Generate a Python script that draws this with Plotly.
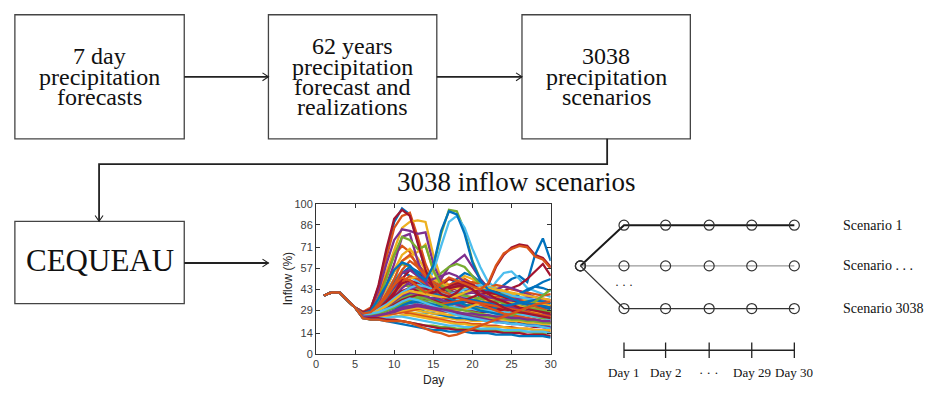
import plotly.graph_objects as go

# ---------------- data ----------------
days = list(range(1, 31))
common_start = [39, 41, 41, 36, 31]  # days 1-5, shared by every scenario

# inflow (%) for days 6..30, one list per plotted scenario
scenario_tails = [
    [28, 30, 45, 68, 88, 97, 93, 75, 55, 42, 38, 36, 40, 45, 42, 38, 35, 33, 30, 28, 27, 26, 25, 24, 23],
    [28, 31, 44, 65, 84, 92, 94, 78, 60, 48, 44, 42, 46, 50, 47, 42, 38, 36, 34, 32, 30, 29, 28, 27, 26],
    [28, 30, 40, 55, 70, 84, 88, 89, 88, 66, 50, 46, 48, 52, 50, 46, 42, 40, 38, 36, 34, 33, 32, 31, 30],
    [27, 30, 42, 60, 76, 83, 82, 80, 81, 60, 48, 44, 45, 48, 46, 44, 42, 40, 38, 37, 36, 35, 34, 33, 32],
    [27, 29, 36, 45, 55, 60, 58, 52, 48, 58, 80, 96, 95, 82, 62, 50, 44, 42, 40, 38, 36, 35, 34, 33, 32],
    [27, 29, 35, 42, 50, 55, 52, 48, 45, 55, 72, 88, 92, 84, 70, 58, 48, 44, 42, 40, 38, 37, 36, 35, 34],
    [27, 28, 32, 38, 45, 50, 48, 44, 40, 42, 46, 50, 48, 46, 44, 42, 46, 58, 66, 71, 73, 72, 66, 64, 58],
    [27, 29, 33, 40, 48, 55, 52, 50, 46, 44, 42, 45, 50, 54, 52, 48, 44, 42, 46, 50, 52, 48, 66, 77, 62],
    [27, 29, 38, 52, 66, 72, 68, 58, 50, 44, 40, 38, 37, 38, 36, 34, 32, 30, 29, 28, 27, 26, 25, 24, 23],
    [26, 28, 34, 44, 55, 62, 65, 68, 73, 55, 45, 40, 42, 44, 42, 40, 38, 36, 35, 34, 33, 32, 31, 30, 29],
    [26, 28, 32, 38, 44, 48, 46, 44, 42, 44, 50, 58, 62, 66, 58, 50, 44, 40, 38, 36, 35, 34, 33, 32, 31],
    [26, 28, 31, 36, 42, 46, 45, 43, 42, 46, 54, 58, 60, 58, 52, 46, 42, 38, 36, 34, 32, 31, 30, 29, 28],
    [26, 27, 30, 34, 38, 42, 40, 38, 36, 38, 40, 42, 44, 46, 44, 42, 40, 48, 54, 55, 50, 44, 42, 40, 38],
    [26, 27, 30, 33, 37, 40, 39, 37, 36, 37, 39, 42, 44, 46, 45, 43, 42, 41, 42, 44, 46, 50, 55, 60, 52],
    [25, 26, 28, 30, 33, 35, 34, 33, 32, 31, 30, 30, 31, 32, 33, 34, 35, 36, 37, 38, 40, 42, 45, 48, 50],
    [26, 27, 31, 36, 42, 48, 52, 50, 47, 45, 44, 46, 48, 47, 45, 43, 44, 46, 45, 43, 42, 41, 40, 39, 40],
    [26, 27, 30, 35, 40, 46, 50, 52, 50, 46, 42, 40, 39, 40, 42, 44, 45, 44, 42, 40, 38, 36, 35, 34, 33],
    [25, 26, 29, 33, 38, 44, 48, 46, 43, 40, 38, 37, 38, 40, 41, 40, 38, 36, 34, 33, 32, 31, 30, 29, 28],
    [25, 26, 28, 31, 35, 40, 42, 40, 38, 36, 35, 34, 33, 32, 34, 38, 40, 38, 35, 33, 31, 30, 29, 28, 27],
    [25, 25, 26, 28, 30, 33, 34, 33, 32, 31, 30, 29, 28, 27, 26, 25, 24, 24, 23, 22, 22, 21, 20, 20, 19],
    [26, 27, 30, 34, 40, 50, 56, 54, 50, 45, 40, 38, 36, 35, 34, 33, 32, 31, 30, 29, 28, 27, 26, 25, 24],
    [26, 27, 31, 37, 45, 54, 58, 55, 52, 48, 44, 42, 40, 41, 43, 44, 42, 40, 38, 36, 34, 33, 32, 31, 30],
    [26, 28, 33, 40, 50, 62, 66, 60, 54, 48, 45, 43, 44, 46, 48, 46, 43, 40, 38, 37, 36, 35, 34, 33, 32],
    [27, 29, 34, 44, 56, 66, 70, 64, 56, 50, 47, 45, 44, 43, 42, 41, 40, 39, 38, 37, 36, 35, 34, 33, 32],
    [27, 28, 32, 38, 46, 54, 56, 52, 48, 50, 52, 54, 52, 48, 44, 42, 41, 43, 45, 44, 42, 40, 38, 36, 34],
    [25, 25, 27, 29, 31, 33, 32, 31, 30, 29, 30, 32, 34, 36, 38, 37, 35, 33, 31, 30, 29, 28, 27, 26, 25],
    [25, 25, 26, 27, 28, 29, 28, 27, 27, 28, 30, 33, 36, 38, 36, 33, 30, 28, 26, 25, 24, 23, 22, 21, 20],
    [26, 27, 30, 34, 38, 42, 41, 40, 39, 40, 42, 44, 45, 46, 44, 40, 36, 32, 28, 24, 21, 19, 18, 18, 17],
    [25, 26, 28, 31, 34, 38, 40, 39, 38, 37, 36, 35, 34, 33, 32, 31, 30, 31, 33, 36, 40, 43, 45, 44, 42],
    [25, 26, 27, 29, 31, 34, 35, 34, 33, 32, 31, 30, 30, 31, 32, 34, 36, 38, 39, 38, 36, 34, 32, 30, 28],
    [24, 24, 25, 26, 27, 28, 28, 27, 26, 25, 24, 24, 23, 23, 22, 22, 23, 24, 26, 28, 30, 31, 30, 28, 26],
    [26, 28, 34, 46, 60, 78, 80, 62, 48, 40, 36, 34, 33, 32, 31, 30, 29, 28, 27, 26, 25, 24, 23, 22, 21],
    [27, 29, 36, 50, 66, 78, 76, 70, 72, 56, 46, 42, 40, 39, 38, 37, 36, 35, 34, 33, 32, 31, 30, 29, 28],
    [26, 26, 28, 31, 34, 37, 36, 34, 32, 30, 29, 28, 27, 26, 26, 25, 25, 26, 27, 28, 27, 26, 25, 24, 23],
    [26, 27, 29, 33, 37, 42, 44, 42, 39, 36, 34, 32, 31, 30, 29, 28, 28, 29, 30, 31, 30, 29, 28, 27, 26],
    [25, 25, 26, 28, 30, 32, 31, 30, 28, 27, 26, 25, 24, 24, 23, 23, 22, 22, 21, 21, 20, 20, 19, 19, 18],
    [25, 24, 25, 26, 27, 28, 27, 26, 25, 24, 23, 22, 21, 21, 20, 20, 19, 19, 18, 18, 17, 17, 16, 16, 15],
    [25, 26, 27, 28, 29, 30, 30, 29, 28, 27, 27, 26, 26, 25, 25, 24, 24, 23, 23, 22, 22, 21, 21, 20, 20],
    [26, 27, 29, 32, 36, 40, 43, 45, 44, 42, 40, 39, 38, 37, 36, 35, 34, 33, 32, 31, 30, 29, 28, 27, 26],
    [25, 26, 28, 31, 34, 37, 39, 41, 42, 41, 39, 37, 35, 33, 31, 30, 29, 28, 28, 27, 27, 26, 25, 24, 24],
    [25, 25, 27, 29, 32, 35, 37, 36, 35, 34, 33, 32, 31, 30, 30, 29, 29, 28, 28, 27, 26, 26, 25, 25, 24],
    [26, 27, 30, 35, 41, 47, 49, 47, 44, 41, 38, 36, 35, 36, 38, 40, 41, 40, 38, 36, 35, 34, 33, 32, 31],
    [25, 26, 27, 29, 31, 33, 35, 37, 39, 40, 39, 37, 35, 33, 31, 29, 28, 27, 26, 25, 24, 23, 22, 22, 21],
    [24, 24, 25, 26, 27, 28, 29, 30, 31, 32, 33, 34, 35, 36, 35, 33, 31, 29, 27, 26, 25, 24, 23, 22, 21],
    [25, 25, 26, 27, 28, 29, 30, 31, 30, 29, 28, 28, 29, 30, 32, 34, 36, 37, 36, 34, 32, 30, 28, 26, 24],
    [26, 27, 29, 32, 35, 39, 41, 40, 38, 37, 38, 40, 42, 43, 42, 40, 38, 37, 36, 36, 37, 38, 38, 37, 36],
    [25, 26, 28, 30, 33, 36, 38, 37, 35, 33, 31, 29, 28, 27, 26, 25, 25, 24, 24, 23, 23, 22, 22, 21, 21],
    [26, 27, 30, 33, 37, 41, 44, 46, 45, 43, 41, 40, 41, 43, 45, 46, 45, 43, 41, 39, 38, 37, 36, 35, 34],
    [26, 26, 28, 30, 33, 36, 38, 39, 40, 41, 43, 45, 47, 48, 46, 43, 40, 37, 35, 33, 31, 30, 29, 28, 27],
    [25, 26, 27, 29, 31, 33, 34, 35, 34, 33, 32, 33, 34, 35, 36, 35, 34, 33, 32, 33, 34, 35, 36, 35, 34],
    [27, 28, 32, 38, 46, 56, 62, 58, 52, 46, 42, 40, 38, 36, 35, 34, 33, 32, 31, 30, 29, 28, 27, 26, 25],
    [26, 27, 29, 32, 36, 40, 42, 41, 40, 39, 38, 38, 39, 41, 43, 44, 44, 43, 42, 41, 40, 39, 38, 37, 36],
    [25, 25, 26, 27, 28, 30, 31, 32, 31, 30, 29, 28, 27, 26, 25, 24, 23, 22, 21, 20, 20, 19, 19, 18, 18],
    [26, 26, 27, 29, 31, 34, 36, 38, 37, 35, 33, 31, 30, 29, 28, 27, 26, 25, 25, 26, 28, 31, 35, 39, 43],
    [26, 27, 28, 30, 32, 35, 37, 36, 34, 32, 30, 28, 26, 25, 24, 23, 22, 21, 21, 20, 20, 19, 19, 18, 17],
    [28, 30, 46, 70, 90, 96, 92, 74, 56, 44, 40, 38, 41, 46, 43, 39, 36, 34, 31, 29, 28, 27, 26, 25, 24],
    [27, 29, 37, 46, 56, 61, 59, 53, 49, 59, 82, 95, 93, 80, 61, 49, 43, 41, 39, 37, 35, 34, 33, 32, 31],
    [27, 28, 33, 39, 46, 51, 49, 45, 41, 43, 47, 51, 49, 47, 45, 43, 47, 59, 67, 70, 72, 71, 65, 63, 57],
    [24, 24, 24, 25, 25, 26, 26, 25, 24, 23, 22, 21, 20, 20, 19, 19, 18, 18, 18, 17, 17, 17, 16, 16, 16],
    [25, 25, 26, 27, 29, 31, 32, 33, 32, 31, 30, 29, 28, 27, 27, 26, 26, 25, 25, 24, 24, 23, 23, 22, 22],
    [24, 23, 23, 23, 22, 22, 21, 20, 19, 19, 18, 18, 17, 17, 17, 16, 16, 16, 15, 15, 15, 15, 14, 14, 14],
    [24, 24, 24, 24, 25, 25, 24, 23, 22, 21, 20, 19, 19, 18, 18, 17, 17, 17, 16, 16, 16, 15, 15, 15, 14],
    [24, 24, 24, 23, 23, 22, 21, 20, 19, 18, 17, 17, 16, 16, 16, 15, 15, 15, 14, 14, 14, 13, 13, 13, 12],
    [24, 23, 23, 22, 21, 20, 19, 18, 17, 16, 16, 15, 15, 15, 14, 14, 14, 13, 13, 13, 12, 12, 12, 12, 11],
    [24, 23, 23, 22, 22, 22, 21, 19, 17, 15, 14, 12, 13, 15, 17, 19, 21, 23, 25, 27, 29, 31, 33, 34, 35],
]

x_ticks = [0, 5, 10, 15, 20, 25, 30]
y_ticks = [0, 14, 29, 43, 57, 71, 86, 100]

box_texts = [
    ["7 day", "precipitation", "forecasts"],
    ["62 years", "precipitation", "forecast and", "realizations"],
    ["3038", "precipitation", "scenarios"],
]
model_name = "CEQUEAU"
title_text = "3038 inflow scenarios"
scenario_labels = ["Scenario 1", "Scenario . . .", "Scenario 3038"]
day_labels = ["Day 1", "Day 2", "· · ·", "Day 29", "Day 30"]

# ---------------- styling / layout ----------------
W, H = 939, 397
matlab_colors = ["#0072BD", "#D95319", "#EDB120", "#7E2F8E", "#77AC30", "#4DBEEE", "#A2142F"]
SERIF = "Liberation Serif"
INK = "#222222"

fig = go.Figure()

for i, tail in enumerate(scenario_tails):
    fig.add_trace(go.Scatter(
        x=days, y=common_start + tail, mode="lines",
        line=dict(color=matlab_colors[i % len(matlab_colors)], width=2.3),
        xaxis="x", yaxis="y", showlegend=False, hoverinfo="skip"))

# chart region in pixels
cx0, cx1, cy0, cy1 = 316, 553, 204, 359

axis_common = dict(showline=True, linecolor="#333333", linewidth=1, mirror="ticks",
                   ticks="inside", ticklen=4, tickcolor="#333333", showgrid=False,
                   zeroline=False, tickfont=dict(family="Liberation Sans", size=11, color="#404040"))

shapes = []
annotations = []

def rect(x0, y0, x1, y1):
    shapes.append(dict(type="rect", xref="x2", yref="y2", x0=x0, y0=y0, x1=x1, y1=y1,
                       line=dict(color="#444444", width=1.3)))

def seg(pts, width=1.8, color=INK):
    path = "M " + " L ".join(f"{x},{y}" for x, y in pts)
    shapes.append(dict(type="path", xref="x2", yref="y2", path=path,
                       line=dict(color=color, width=width)))

def head(x, y, direction):
    if direction == "right":
        p = f"M {x-6},{y-4} L {x},{y} L {x-6},{y+4}"
    else:  # down
        p = f"M {x-4},{y-6} L {x},{y} L {x+4},{y-6}"
    shapes.append(dict(type="path", xref="x2", yref="y2", path=p,
                       line=dict(color=INK, width=1.1)))

def text(x, y, s, size, family=SERIF, color="#111111", xanchor="center", angle=0):
    annotations.append(dict(x=x, y=y, xref="x2", yref="y2", text=s, showarrow=False,
                            xanchor=xanchor, yanchor="middle", textangle=angle,
                            font=dict(family=family, size=size, color=color)))

# boxes (pixel geometry)
boxes = [(12, 9, 183, 137), (268, 9, 438, 137), (524, 9, 694, 137)]
for (x0, y0, x1, y1) in boxes:
    rect(x0, y0, x1, y1)
line_gap = 21
for (x0, y0, x1, y1), lines in zip(boxes, box_texts):
    xc = (x0 + x1) / 2
    yc = (y0 + y1) / 2
    n = len(lines)
    for k, s in enumerate(lines):
        text(xc, yc + (k - (n - 1) / 2) * line_gap, s, 24)

rect(12, 222, 183, 307)
text(97.5, 262, model_name, 31)

# arrows
seg([(183, 73), (268, 73)]); head(268, 73, "right")
seg([(438, 73), (524, 73)]); head(524, 73, "right")
seg([(610, 137), (610, 163), (97, 163), (97, 222)]); head(97, 222, "down")
seg([(183, 265), (268, 265)]); head(268, 265, "right")

text(518, 181, title_text, 27)

# axis labels of inflow chart
text(288, (cy0 + cy1) / 2, "Inflow (%)", 12, family="Liberation Sans", color="#262626", angle=-90)
text((cx0 + cx1) / 2, 386, "Day", 12, family="Liberation Sans", color="#262626")

# scenario tree
root = (583, 268)
cols = [627, 669, 713, 756, 799]
rows = [226, 268, 312]
row_styles = [dict(color="#1a1a1a", width=2.0), dict(color="#808080", width=1.0), dict(color="#333333", width=1.3)]
for r, st in zip(rows, row_styles):
    fig.add_trace(go.Scatter(
        x=[root[0]] + cols, y=[root[1]] + [r] * len(cols), mode="lines+markers",
        line=st, marker=dict(symbol="circle-open", size=10, color="#333333", line=dict(width=1.2)),
        xaxis="x2", yaxis="y2", showlegend=False, hoverinfo="skip"))
for r, s in zip(rows, scenario_labels):
    text(846, r, s, 14, xanchor="left")
text(627, 288, "· · ·", 12)

# timeline
tl_y = 355
fig.add_trace(go.Scatter(x=[cols[0], cols[-1]], y=[tl_y, tl_y], mode="lines",
                         line=dict(color="#222222", width=1.5), xaxis="x2", yaxis="y2",
                         showlegend=False, hoverinfo="skip"))
for c in cols:
    seg([(c, tl_y - 8), (c, tl_y + 8)], width=1.3)
for c, s in zip(cols, day_labels):
    text(c, 378, s, 13)

fig.update_layout(
    width=W, height=H, autosize=False,
    margin=dict(l=0, r=0, t=0, b=0),
    paper_bgcolor="white", plot_bgcolor="rgba(0,0,0,0)",
    xaxis=dict(domain=[cx0 / W, cx1 / W], range=[0, 30], tickvals=x_ticks, anchor="y", **axis_common),
    yaxis=dict(domain=[1 - cy1 / H, 1 - cy0 / H], range=[0, 100], tickvals=y_ticks, anchor="x", **axis_common),
    xaxis2=dict(domain=[0, 1], range=[0, W], visible=False, anchor="y2", fixedrange=True),
    yaxis2=dict(domain=[0, 1], range=[H, 0], visible=False, anchor="x2", fixedrange=True),
    shapes=shapes, annotations=annotations,
)

fig.write_html("out.html", config={"displayModeBar": False},
               post_script="document.body.style.margin='0';document.body.style.overflow='hidden';")
